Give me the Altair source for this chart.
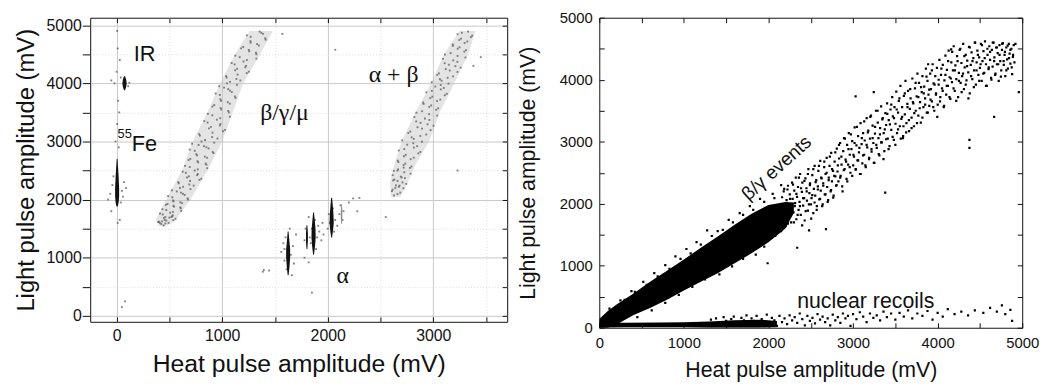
import altair as alt
import pandas as pd

# ======================= LEFT PANEL (mV) =======================
LX = [-250, 3700]
LY = [-102, 5128]

# grey beta/gamma/mu band: left / right edge of the cloud versus light amplitude
BAND1_Y = [1540, 1650, 2000, 2500, 3000, 3500, 4000, 4500, 4900]
BAND1_XL = [400, 370, 470, 620, 720, 860, 980, 1120, 1260]
BAND1_XR = [470, 560, 700, 860, 1000, 1100, 1200, 1360, 1480]
# grey alpha+beta band
BAND2_Y = [2050, 2300, 2600, 3000, 3500, 4000, 4500, 4900]
BAND2_XL = [2600, 2590, 2630, 2700, 2830, 2980, 3100, 3250]
BAND2_XR = [2690, 2760, 2830, 2960, 3060, 3200, 3330, 3400]

# dark narrow clusters: centre, light values and half widths
FE_C, FE_Y, FE_H = 5, [1880, 1950, 2050, 2200, 2400, 2550, 2700], [6, 14, 19, 19, 14, 9, 4]
IR_C, IR_Y, IR_H = 75, [3880, 3940, 4000, 4060, 4120], [5, 16, 20, 16, 5]
A1_C, A1_Y, A1_H = 1625, [700, 850, 1000, 1150, 1300, 1450], [4, 13, 19, 19, 11, 4]
A2_C, A2_Y, A2_H = 1803, [1150, 1280, 1420, 1560], [4, 9, 9, 4]
A3_C, A3_Y, A3_H = 1866, [1050, 1200, 1350, 1500, 1650, 1780], [4, 14, 20, 18, 11, 4]
A4_C, A4_Y, A4_H = 2037, [1350, 1480, 1600, 1750, 1900, 2030], [4, 14, 20, 17, 11, 4]
A5_C, A5_Y, A5_H = 2131, [1580, 1680, 1800, 1930], [3, 7, 7, 3]

BAND1_DOTS = [(423, 1580), (492, 1600), (401, 1620), (471, 1640), (558, 1670), (462, 1700), (532, 1730),
              (411, 1760), (534, 1790), (471, 1820), (608, 1850), (544, 1880), (466, 1910), (620, 1940),
              (540, 1970), (677, 2000), (528, 2040), (645, 2080), (610, 2120), (525, 2160), (600, 2200),
              (730, 2240), (589, 2280), (696, 2320), (803, 2360), (685, 2400), (769, 2440), (626, 2480),
              (769, 2520), (693, 2560), (851, 2600), (773, 2640), (681, 2680), (858, 2720), (763, 2760),
              (918, 2800), (741, 2840), (872, 2880), (827, 2920), (715, 2960), (804, 3000), (955, 3050),
              (789, 3100), (909, 3150), (1027, 3200), (894, 3250), (983, 3300), (831, 3350), (981, 3400),
              (907, 3450), (1064, 3500), (991, 3550), (908, 3600), (1072, 3650), (989, 3700), (1127, 3750),
              (978, 3800), (1091, 3850), (1057, 3900), (972, 3950), (1046, 4000), (1172, 4050), (1042, 4100),
              (1146, 4150), (1253, 4200), (1142, 4250), (1226, 4300), (1090, 4350), (1234, 4400), (1166, 4450),
              (1324, 4500), (1256, 4550), (1179, 4600), (1347, 4650), (1270, 4700), (1412, 4750), (1270, 4800),
              (1387, 4850), (1355, 4890), (1570, 4850)]
BAND1_DOTS2 = [(461, 1590), (394, 1615), (538, 1645), (448, 1685), (527, 1715), (437, 1745), (508, 1775),
               (612, 1805), (434, 1835), (603, 1865), (538, 1895), (482, 1925), (603, 1955), (534, 1985),
               (672, 2020), (488, 2060), (628, 2100), (570, 2140), (700, 2180), (630, 2220), (689, 2260),
               (584, 2300), (785, 2340), (667, 2380), (763, 2420), (656, 2460), (740, 2500), (859, 2540),
               (648, 2580), (844, 2620), (766, 2660), (698, 2700), (836, 2740), (755, 2780), (910, 2820),
               (692, 2860), (850, 2900), (777, 2940), (925, 2980), (838, 3025), (905, 3075), (782, 3125),
               (1008, 3175), (875, 3225), (978, 3275), (862, 3325), (950, 3375), (1073, 3425), (865, 3475),
               (1057, 3525), (985, 3575), (925, 3625), (1053, 3675), (983, 3725), (1121, 3775), (938, 3825),
               (1074, 3875), (1018, 3925), (1140, 3975), (1075, 4025), (1135, 4075), (1037, 4125), (1233, 4175),
               (1123, 4225), (1219, 4275), (1118, 4325), (1202, 4375), (1324, 4425), (1125, 4475), (1320, 4525),
               (1252, 4575), (1199, 4625), (1331, 4675), (1268, 4725), (1408, 4775), (1234, 4825), (1371, 4870),
               (445, 1555), (410, 1600), (500, 1690), (455, 1650), (520, 1700), (430, 1625)]
BAND2_DOTS = [(2628, 2070), (2687, 2120), (2614, 2170), (2673, 2220), (2744, 2270), (2661, 2320), (2731, 2370),
              (2615, 2420), (2725, 2470), (2667, 2520), (2793, 2570), (2735, 2620), (2663, 2670), (2815, 2720),
              (2739, 2770), (2878, 2820), (2725, 2870), (2847, 2920), (2810, 2970), (2705, 3020), (2795, 3070),
              (2933, 3120), (2782, 3170), (2893, 3220), (3002, 3270), (2879, 3320), (2963, 3370), (2821, 3420),
              (2961, 3470), (2894, 3520), (3046, 3570), (2980, 3620), (2904, 3670), (3066, 3720), (2990, 3770),
              (3128, 3820), (2986, 3870), (3100, 3920), (3070, 3970), (2985, 4020), (3063, 4070), (3187, 4120),
              (3054, 4170), (3156, 4220), (3259, 4270), (3147, 4320), (3228, 4370), (3092, 4420), (3230, 4470),
              (3164, 4520), (3310, 4570), (3248, 4620), (3184, 4670), (3322, 4720), (3263, 4770), (3369, 4820),
              (3270, 4870), (3380, 4300), (3450, 4450), (2550, 1700), (3230, 2500)]
BAND2_DOTS2 = [(2661, 2095), (2608, 2145), (2717, 2195), (2646, 2245), (2708, 2295), (2631, 2345), (2692, 2395),
               (2785, 2445), (2626, 2495), (2778, 2545), (2719, 2595), (2669, 2645), (2786, 2695), (2722, 2745),
               (2859, 2795), (2673, 2845), (2816, 2895), (2753, 2945), (2893, 2995), (2815, 3045), (2877, 3095),
               (2763, 3145), (2974, 3195), (2850, 3245), (2946, 3295), (2838, 3345), (2921, 3395), (3037, 3445),
               (2840, 3495), (3027, 3545), (2962, 3595), (2908, 3645), (3036, 3695), (2971, 3745), (3109, 3795),
               (2934, 3845), (3071, 3895), (3019, 3945), (3144, 3995), (3079, 4045), (3136, 4095), (3037, 4145),
               (3229, 4195), (3118, 4245), (3209, 4295), (3108, 4345), (3189, 4395), (3305, 4445), (3110, 4495),
               (3294, 4545), (3231, 4595), (3185, 4645), (3297, 4695), (3246, 4745), (3356, 4795), (3230, 4845),
               (3330, 4890), (2640, 2200), (2680, 2240), (2620, 2330), (2700, 2380), (2660, 2500), (2720, 2550)]
FE_DOTS = [(-60, 2100), (-40, 2250), (-80, 2000), (50, 2150), (70, 2300), (40, 1950), (-30, 2400), (60, 2050),
           (90, 2200), (-50, 1800), (30, 1650), (10, 1600), (20, 2900), (5, 3300), (15, 3700), (0, 4200),
           (10, 4600), (5, 4900), (-10, 3000), (25, 3500), (-20, 4000), (30, 4400), (50, 150), (80, 250),
           (40, 4100), (110, 3950), (-50, 4050), (120, 4010)]
ALPHA_DOTS = [(1560, 1100), (1580, 1250), (1590, 950), (1600, 1350), (1610, 800), (1640, 1500), (1650, 1050),
              (1660, 700), (1670, 1200), (1680, 900), (1700, 1400), (1590, 1150), (1780, 1300), (1790, 1500),
              (1820, 1700), (1830, 1350), (1840, 1250), (1850, 1500), (1880, 1650), (1890, 1150), (1900, 1350),
              (1910, 1550), (1920, 1450), (1940, 1300), (1950, 1600), (1960, 1400), (1780, 1000), (1820, 920),
              (2000, 1500), (2010, 1750), (2020, 1600), (2050, 1850), (2060, 1450), (2070, 1650), (2090, 1550),
              (2110, 1750), (2120, 1900), (2140, 1650), (2150, 1800), (2200, 1950), (2240, 2020), (2280, 1800),
              (2300, 2030), (1395, 790), (1445, 780), (1850, 400), (1385, 760), (2072, 4577)]

# ======================= RIGHT PANEL =======================
RX = [0, 5000]
RY = [0, 5000]
# dense (solid black) part of the beta/gamma band
BG_X = [0, 100, 200, 400, 600, 800, 1000, 1200, 1400, 1600, 1800, 2000, 2200, 2300]
BG_LO = [0, 0, 50, 200, 320, 450, 600, 740, 880, 1040, 1200, 1380, 1600, 1850]
BG_HI = [140, 270, 370, 550, 740, 920, 1100, 1290, 1470, 1660, 1840, 1980, 2030, 2020]
# dense part of the nuclear-recoil band
NR_X = [0, 300, 700, 1000, 1300, 1600, 1900, 2100]
NR_LO = [0, 10, 10, 10, 0, 0, 0, 10]
NR_HI = [90, 80, 85, 90, 100, 120, 130, 110]

BG_DOTS_A = [(2210, 1950), (2225, 2230), (2240, 1760), (2255, 2080), (2270, 1890), (2290, 2310), (2300, 1700),
             (2315, 2010), (2330, 2160), (2345, 1820), (2360, 2420), (2372, 1960), (2385, 2250), (2398, 1650),
             (2410, 2090), (2425, 2370), (2440, 1880), (2452, 2200), (2466, 2480), (2478, 1990), (2490, 2300),
             (2505, 1760), (2518, 2140), (2530, 2560), (2545, 2020), (2558, 2350), (2570, 1900), (2584, 2230),
             (2597, 2610), (2610, 2080), (2622, 2420), (2635, 1960), (2648, 2290), (2660, 2680), (2674, 2150),
             (2688, 2500), (2700, 2030), (2712, 2380), (2726, 2760), (2740, 2220), (2752, 2560), (2766, 2100),
             (2778, 2450), (2790, 2830)]
BG_DOTS_A2 = [(2153, 1820), (2161, 2105), (2168, 1710), (2179, 1975), (2186, 2240), (2197, 1880), (2203, 1640),
              (2214, 2060), (2222, 1930), (2231, 2290), (2240, 1790), (2252, 2150), (2258, 1990), (2267, 1700),
              (2279, 2340), (2285, 2080), (2296, 1860), (2305, 2210), (2311, 1960), (2323, 2420), (2330, 1750),
              (2338, 2110), (2349, 2270), (2356, 1900), (2367, 2030), (2374, 2480), (2382, 1820), (2395, 2190),
              (2401, 2340), (2410, 1970), (2421, 2090), (2428, 1730), (2437, 2410), (2449, 2250), (2455, 2050),
              (2466, 1890), (2472, 2560), (2484, 2170), (2491, 2330), (2503, 1990), (2509, 2090), (2518, 2460),
              (2530, 1850), (2537, 2240), (2546, 2610), (2553, 2130), (2565, 2380), (2572, 1960), (2584, 2280),
              (2590, 2530), (2601, 2070), (2612, 2690), (2618, 2210), (2629, 2410), (2641, 1990), (2647, 2330),
              (2659, 2590), (2666, 2150), (2675, 2480), (2688, 2740), (2694, 2270), (2706, 2060), (2713, 2420),
              (2722, 2610), (2735, 2200), (2742, 2820), (2751, 2360), (2763, 2530), (2770, 2130), (2782, 2680),
              (2791, 2440), (2799, 2290)]
BG_DOTS_B = [(2805, 2300), (2820, 2620), (2834, 2950), (2848, 2420), (2862, 2760), (2876, 2200), (2890, 2540),
             (2904, 3050), (2918, 2680), (2932, 2360), (2946, 2880), (2960, 2590), (2975, 3120), (2990, 2450),
             (3004, 2790), (3018, 2980), (3032, 2560), (3046, 3240), (3060, 2700), (3075, 2900), (3090, 2480),
             (3104, 3060), (3118, 2780), (3132, 3330), (3146, 2620), (3160, 2950), (3175, 3150), (3190, 2740),
             (3204, 3400), (3218, 2880), (3232, 3060), (3246, 2660), (3260, 3240), (3275, 2950), (3290, 3500),
             (3304, 2800), (3318, 3120), (3332, 2990), (3346, 3360), (3360, 2720), (3375, 3200), (3390, 3040)]
BG_DOTS_B2 = [(2808, 2890), (2816, 2520), (2827, 2360), (2835, 2730), (2847, 2980), (2853, 2450), (2864, 2630),
              (2872, 2280), (2884, 2850), (2893, 3060), (2900, 2560), (2911, 2710), (2923, 2400), (2930, 2950),
              (2942, 2630), (2950, 3140), (2961, 2790), (2969, 2500), (2981, 2880), (2990, 3010), (3002, 2620),
              (3011, 2760), (3019, 3230), (3031, 2550), (3040, 2940), (3052, 2700), (3059, 3090), (3070, 2830),
              (3082, 2480), (3089, 3300), (3101, 2960), (3110, 2650), (3119, 3140), (3131, 2790), (3138, 3020),
              (3150, 2590), (3161, 3380), (3168, 2910), (3180, 3180), (3189, 2720), (3200, 3050), (3212, 3420),
              (3219, 2840), (3231, 3260), (3240, 2980), (3252, 2660), (3259, 3130), (3271, 3500), (3280, 2900),
              (3292, 3310), (3300, 3060), (3311, 2780), (3320, 3220), (3332, 3570), (3340, 2990), (3351, 3380),
              (3362, 3140), (3370, 2850), (3382, 3460), (3391, 3270), (3402, 3620), (3410, 3050), (3422, 3350),
              (3431, 2930), (3443, 3520)]
BG_DOTS_C = [(3405, 3450), (3420, 2880), (3436, 3280), (3452, 3600), (3468, 3080), (3484, 3380), (3500, 2950),
             (3516, 3520), (3532, 3200), (3548, 3700), (3564, 3050), (3580, 3400), (3596, 3250), (3612, 3780),
             (3628, 3150), (3644, 3560), (3660, 3350), (3676, 3850), (3692, 3220), (3708, 3640), (3724, 3460),
             (3740, 3950), (3756, 3300), (3772, 3720), (3788, 3540), (3804, 3880), (3820, 3390), (3836, 3780),
             (3852, 3600), (3868, 4050), (3884, 3470), (3900, 3840), (3916, 3680), (3932, 4150), (3948, 3560),
             (3964, 3920), (3980, 3760), (3996, 3400)]
BG_DOTS_C2 = [(3452, 3190), (3463, 3720), (3471, 3410), (3482, 3030), (3490, 3560), (3502, 3290), (3511, 3810),
              (3520, 3140), (3532, 3470), (3541, 3660), (3553, 3250), (3560, 3900), (3571, 3370), (3580, 3560),
              (3592, 3090), (3601, 3740), (3612, 3440), (3620, 3980), (3631, 3300), (3642, 3610), (3650, 3820),
              (3662, 3170), (3671, 3530), (3680, 3700), (3692, 3390), (3701, 4020), (3712, 3620), (3720, 3250),
              (3732, 3860), (3741, 3500), (3752, 3730), (3761, 4100), (3772, 3420), (3780, 3950), (3792, 3640),
              (3801, 3310), (3812, 3800), (3820, 4060), (3832, 3560), (3841, 3890), (3852, 3700), (3861, 4180),
              (3872, 3470), (3880, 3980), (3892, 3760), (3901, 3580), (3912, 4100), (3921, 3850), (3932, 3650),
              (3941, 4250), (3952, 3940), (3960, 3500), (3972, 4060), (3981, 3780), (3992, 4190), (4001, 3600),
              (4012, 3920), (4021, 4320), (4032, 3720), (4040, 4080), (4052, 3860), (4061, 4240), (4072, 3560),
              (4080, 3990), (4092, 4390)]
BG_DOTS_D = [(4012, 4000), (4028, 3650), (4044, 4180), (4060, 3820), (4076, 3580), (4092, 4080), (4108, 3900),
             (4124, 4300), (4140, 3720), (4156, 4020), (4172, 4450), (4188, 3860), (4204, 4150), (4220, 3660),
             (4236, 4300), (4252, 3980), (4268, 4500), (4284, 3800), (4300, 4100), (4316, 4380), (4332, 3920),
             (4348, 4220), (4364, 3700), (4380, 4520), (4396, 4060), (4412, 4300), (4428, 3880), (4444, 4600),
             (4460, 4150), (4476, 4400), (4492, 3980), (4508, 4250), (4524, 4560), (4540, 4100), (4556, 4350),
             (4572, 3900), (4588, 4500), (4604, 4200), (4620, 4450), (4636, 4000), (4652, 4600), (4668, 4300),
             (4684, 4100), (4700, 4520), (4716, 4250), (4732, 4400), (4748, 4050), (4764, 4580), (4780, 4300),
             (4796, 4450), (4812, 4150), (4828, 4550), (4844, 4350), (4860, 4480), (4876, 4200), (4892, 4400)]
BG_DOTS_D2 = [(4101, 3760), (4110, 4160), (4121, 3900), (4130, 4470), (4141, 4040), (4150, 3690), (4162, 4280),
              (4170, 3960), (4181, 4150), (4190, 4540), (4202, 3820), (4210, 4230), (4221, 4010), (4230, 4380),
              (4242, 3720), (4251, 4110), (4260, 4480), (4272, 3950), (4281, 4270), (4290, 4060), (4302, 4580),
              (4311, 3850), (4320, 4200), (4332, 4400), (4341, 3990), (4350, 4310), (4362, 4120), (4371, 4530),
              (4380, 3780), (4392, 4240), (4401, 4440), (4410, 4010), (4422, 4350), (4431, 4150), (4440, 4600),
              (4452, 3920), (4461, 4280), (4470, 4470), (4482, 4080), (4491, 4360), (4500, 4190), (4512, 4580),
              (4521, 3980), (4530, 4300), (4542, 4460), (4551, 4110), (4560, 4620), (4572, 4250), (4581, 3900),
              (4590, 4400), (4602, 4170), (4611, 4540), (4620, 4320), (4632, 4030), (4641, 4480), (4650, 4210),
              (4662, 4600), (4671, 4360), (4680, 4080), (4692, 4520), (4701, 4250), (4710, 4430), (4722, 3980),
              (4731, 4560), (4740, 4300), (4752, 4150), (4761, 4480), (4770, 4590), (4782, 4240), (4791, 4400),
              (4800, 4060), (4812, 4520), (4821, 4330), (4830, 4180), (4842, 4580), (4851, 4420), (4860, 4260),
              (4872, 4500), (4881, 4090), (4890, 4370), (4900, 4560), (4908, 4280)]
BG_OUTLIERS = [(4376, 3030), (4376, 2900), (4668, 3400), (4960, 3800), (3380, 2180), (2680, 1590), (2480, 1570),
               (2340, 1290), (1990, 1040), (3030, 3730), (3245, 3800), (3888, 4250), (4160, 4490), (4920, 4580),
               (3590, 3060)]
BG_FRINGE = [(250, 440), (380, 590), (520, 740), (650, 880), (780, 1010), (900, 1150), (1030, 1270), (1150, 1380),
             (1275, 1570), (1400, 1560), (1530, 1740), (1660, 1850), (1780, 1960), (1900, 2080), (2050, 2160),
             (2150, 2300), (450, 170), (620, 280), (780, 400), (940, 530), (1100, 660), (1250, 780), (1420, 860),
             (1570, 990), (1700, 1110), (1850, 1180), (1950, 1310), (2080, 1480), (2150, 1560)]
BG_FRINGE2 = [(120, 310), (180, 200), (300, 450), (340, 290), (420, 580), (470, 330), (560, 690), (600, 430),
              (690, 830), (720, 540), (830, 950), (860, 600), (960, 1110), (1000, 700), (1080, 1200), (1130, 770),
              (1200, 1340), (1260, 850), (1330, 1480), (1370, 950), (1460, 1580), (1490, 1040), (1580, 1700),
              (1630, 1110), (1700, 1820), (1740, 1230), (1820, 1900), (1880, 1330), (1950, 2030), (2000, 1480),
              (2070, 2090), (2120, 1600), (2180, 2200), (2230, 1680)]
NR_DOTS = [(1320, 130), (1350, 60), (1380, 150), (1410, 90), (1440, 40), (1470, 170), (1500, 110), (1530, 60),
           (1560, 140), (1590, 180), (1620, 90), (1650, 30), (1680, 160), (1710, 120), (1740, 200), (1770, 70),
           (1800, 150), (1830, 110), (1860, 190), (1890, 40), (1920, 140), (1950, 100), (1980, 210), (2010, 60),
           (2040, 160), (2070, 120), (2100, 30), (2130, 190), (2160, 90), (2190, 150), (2220, 60), (2250, 200),
           (2280, 120), (2310, 170), (2340, 80), (2370, 230), (2400, 140), (2430, 40), (2460, 190), (2490, 110),
           (2520, 160), (2550, 70), (2580, 220), (2610, 130), (2640, 180), (2670, 90), (2700, 150), (2730, 40),
           (2760, 210), (2790, 120), (2820, 170), (2850, 80), (2880, 230), (2910, 150), (2940, 190), (2970, 30),
           (3000, 220), (3040, 140), (3080, 250), (3120, 180), (3160, 90), (3200, 230), (3240, 160), (3280, 200),
           (3320, 120), (3360, 260), (3400, 170), (3450, 230), (3500, 130), (3550, 240), (3600, 180), (3650, 280),
           (3700, 150), (3760, 230), (3820, 190), (3880, 270), (3940, 130), (4000, 240), (4060, 180), (4120, 300),
           (4200, 220), (4280, 260), (4360, 200), (4440, 280), (4540, 240), (4620, 320), (4700, 260), (4760, 360),
           (4800, 220), (4860, 290), (4880, 110)]

TICKS_L_X = list(range(0, 3501, 500))
TICKS_L_Y = list(range(0, 5001, 500))
TICKS_R = list(range(0, 5001, 500))

SANS = "Liberation Sans"
SERIF = "Liberation Serif"
MAJOR = "datum.value % 1000 === 0 ? datum.label : ''"


def pts(lst):
    return pd.DataFrame(lst, columns=["x", "y"])


def band_df(groups):
    rows = []
    for g, ys, xl, xr in groups:
        for a, b, c in zip(ys, xl, xr):
            rows.append({"g": g, "y": a, "xl": b, "xr": c})
    return pd.DataFrame(rows)


def strip_df(groups):
    rows = []
    for g, c, ys, hs in groups:
        for a, h in zip(ys, hs):
            rows.append({"g": g, "y": a, "xl": c - h, "xr": c + h})
    return pd.DataFrame(rows)


def X(field, dom, axis=None):
    return alt.X(field, type="quantitative", scale=alt.Scale(domain=dom, nice=False, zero=False), axis=axis)


def Y(field, dom, axis=None):
    return alt.Y(field, type="quantitative", scale=alt.Scale(domain=dom, nice=False, zero=False), axis=axis)


GRID_COLOR = {"condition": {"test": "datum.value % 1000 === 0", "value": "#c8c8c8"}, "value": "#dcdcdc"}
GRID_DASH = {"condition": {"test": "datum.value % 1000 === 0", "value": []}, "value": [1, 2]}

# ------------------------- left axes -------------------------
lx_main = alt.Axis(title="Heat pulse amplitude (mV)", values=TICKS_L_X, labelExpr=MAJOR, format="d",
                   tickSize={"expr": "-5"}, labelPadding=11, labelFontSize=16, titleFontSize=25,
                   titlePadding=8, grid=True, domain=False, labelFlush=False,
                   gridColor=GRID_COLOR, gridDash=GRID_DASH)
ly_main = alt.Axis(title="Light pulse amplitude (mV)", values=TICKS_L_Y, labelExpr=MAJOR, format="d",
                   tickSize=8, labelPadding=1, labelFontSize=16, titleFontSize=24, titlePadding=8,
                   grid=True, domain=False, labelFlush=False, gridColor=GRID_COLOR, gridDash=GRID_DASH)
lx_top = alt.Axis(orient="top", values=TICKS_L_X, labels=False, title=None, tickSize={"expr": "-5"},
                  grid=False, domain=False)
ly_right = alt.Axis(orient="right", values=TICKS_L_Y, labels=False, title=None, tickSize={"expr": "-5"},
                    grid=False, domain=False)

bands = band_df([("b1", BAND1_Y, BAND1_XL, BAND1_XR), ("b2", BAND2_Y, BAND2_XL, BAND2_XR)])
strips = strip_df([("fe", FE_C, FE_Y, FE_H), ("ir", IR_C, IR_Y, IR_H), ("a1", A1_C, A1_Y, A1_H),
                   ("a2", A2_C, A2_Y, A2_H), ("a3", A3_C, A3_Y, A3_H), ("a4", A4_C, A4_Y, A4_H)])
strip5 = strip_df([("a5", A5_C, A5_Y, A5_H)])
ldots = pts(BAND1_DOTS + BAND1_DOTS2 + BAND2_DOTS + BAND2_DOTS2 + FE_DOTS + ALPHA_DOTS)

l_band = alt.Chart(bands).mark_area(orient="horizontal", color="#c4c4c4", opacity=0.45).encode(
    y=Y("y", LY, ly_main), x=X("xl", LX, lx_main), x2="xr", detail="g:N")
l_dots = alt.Chart(ldots).mark_square(size=3.5, color="#5a5a5a", opacity=0.75).encode(
    x=X("x", LX, lx_top), y=Y("y", LY, ly_right))
l_strip = alt.Chart(strips).mark_area(orient="horizontal", color="#111111").encode(
    y=Y("y", LY), x=X("xl", LX), x2="xr", detail="g:N")
l_strip5 = alt.Chart(strip5).mark_area(orient="horizontal", color="#8a8a8a").encode(
    y=Y("y", LY), x=X("xl", LX), x2="xr", detail="g:N")

L_SANS_T, L_SANS_X, L_SANS_Y = ["IR", "Fe"], [265, 264], [4500, 2960]
L_SUP_T, L_SUP_X, L_SUP_Y = ["55"], [77], [3120]
L_GR_T, L_GR_X, L_GR_Y = ["β/γ/μ", "α + β", "α"], [1590, 2624, 2143], [3480, 4150, 690]

l_t1 = alt.Chart(pd.DataFrame({"t": L_SANS_T, "x": L_SANS_X, "y": L_SANS_Y})).mark_text(
    font=SANS, fontSize=22, color="#111").encode(x=X("x", LX), y=Y("y", LY), text="t:N")
l_t2 = alt.Chart(pd.DataFrame({"t": L_SUP_T, "x": L_SUP_X, "y": L_SUP_Y})).mark_text(
    font=SANS, fontSize=13, color="#111").encode(x=X("x", LX), y=Y("y", LY), text="t:N")
l_t3 = alt.Chart(pd.DataFrame({"t": L_GR_T, "x": L_GR_X, "y": L_GR_Y})).mark_text(
    font=SERIF, fontSize=24, color="#111").encode(x=X("x", LX), y=Y("y", LY), text="t:N")

left = alt.layer(l_band, l_dots, l_strip, l_strip5, l_t1, l_t2, l_t3).resolve_axis(
    x="independent", y="independent").properties(width=421, height=307)

# ------------------------- right axes -------------------------
rx_main = alt.Axis(title="Heat pulse amplitude (mV)", values=TICKS_R, labelExpr=MAJOR, format="d",
                   tickSize={"expr": "-5"}, labelPadding=13, labelFontSize=15, titleFontSize=21.5,
                   titlePadding=9, grid=False, domain=False, labelFlush=False)
ry_main = alt.Axis(title="Light pulse amplitude (mV)", values=TICKS_R, labelExpr=MAJOR, format="d",
                   tickSize={"expr": "-5"}, labelPadding=12, labelFontSize=15, titleFontSize=21.5,
                   titlePadding=20, grid=False, domain=False, labelFlush=False)
rx_top = alt.Axis(orient="top", values=TICKS_R, labels=False, title=None, tickSize={"expr": "-5"},
                  grid=False, domain=False)
ry_right = alt.Axis(orient="right", values=TICKS_R, labels=False, title=None, tickSize={"expr": "-5"},
                    grid=False, domain=False)

cores = pd.concat([
    pd.DataFrame({"g": "bg", "x": BG_X, "lo": BG_LO, "hi": BG_HI}),
    pd.DataFrame({"g": "nr", "x": NR_X, "lo": NR_LO, "hi": NR_HI}),
])
rdots = pts(BG_DOTS_A + BG_DOTS_A2 + BG_DOTS_B + BG_DOTS_B2 + BG_DOTS_C + BG_DOTS_C2 + BG_DOTS_D +
            BG_DOTS_D2 + BG_OUTLIERS + BG_FRINGE + BG_FRINGE2 + NR_DOTS)

r_core = alt.Chart(cores).mark_area(orient="vertical", color="black", clip=True).encode(
    x=X("x", RX, rx_main), y=Y("lo", RY, ry_main), y2="hi", detail="g:N")
r_dots = alt.Chart(rdots).mark_square(size=5, color="black", opacity=1, clip=True).encode(
    x=X("x", RX, rx_top), y=Y("y", RY, ry_right))

R_T1, R_X1, R_Y1 = ["β/γ events"], [2096], [2577]
R_T2, R_X2, R_Y2 = ["nuclear recoils"], [3150], [410]
r_t1 = alt.Chart(pd.DataFrame({"t": R_T1, "x": R_X1, "y": R_Y1})).mark_text(
    font=SANS, fontSize=19, angle=318, color="#111").encode(x=X("x", RX), y=Y("y", RY), text="t:N")
r_t2 = alt.Chart(pd.DataFrame({"t": R_T2, "x": R_X2, "y": R_Y2})).mark_text(
    font=SANS, fontSize=21.5, color="#111").encode(x=X("x", RX), y=Y("y", RY), text="t:N")

right = alt.layer(r_core, r_dots, r_t1, r_t2).resolve_axis(
    x="independent", y="independent").properties(width=427, height=313)

chart = alt.hconcat(left, right, spacing=9).configure_view(
    stroke="#111", strokeWidth=1).configure_axis(
    labelFont=SANS, titleFont=SANS, titleFontWeight="normal", labelColor="#111", titleColor="#111",
    tickColor="#111").properties(background="white",
                                 padding={"left": 5, "top": 0, "right": 5, "bottom": 5})

chart.save("out.html", embed_options={"renderer": "svg", "actions": False})
